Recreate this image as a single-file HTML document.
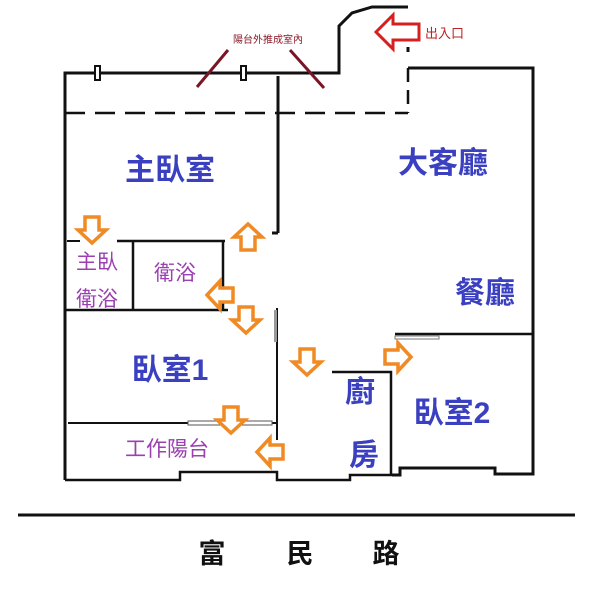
<!DOCTYPE html>
<html><head><meta charset="utf-8"><style>
html,body{margin:0;padding:0;background:#fff;}
svg{display:block;}
text{font-family:"Liberation Sans","Noto Sans CJK TC",sans-serif;}
</style></head><body>
<svg width="600" height="589" viewBox="0 0 600 589" xmlns="http://www.w3.org/2000/svg">
<defs>
<polygon id="ad" points="-7,-13 7,-13 7,0 14,0 0,13 -14,0 -7,0" fill="#fff" stroke="#f08a24" stroke-width="3.5" stroke-linejoin="miter"/>
</defs>
<g stroke="#111" stroke-width="3" fill="none">
<polyline points="65,480 65,73 339,73 339,26 352,13 372,7 408,7"/>
<polyline points="408,68 533,68 533,474 495,474 495,468 400,468 400,475 392,475"/>
<line x1="408" y1="47" x2="408" y2="52"/>
<line x1="65" y1="113" x2="408" y2="113" stroke-dasharray="20,10" stroke-width="2.5"/>
<line x1="408" y1="68" x2="408" y2="113" stroke-dasharray="14,8" stroke-width="2.5"/>
<line x1="278" y1="76" x2="278" y2="233"/>
<polyline points="272,233 278,233"/>
<line x1="67" y1="241" x2="80" y2="241" stroke-width="2"/>
<line x1="117" y1="241" x2="225" y2="241" stroke-width="2.5"/>
<line x1="133" y1="241" x2="133" y2="309" stroke-width="2.5"/>
<line x1="223" y1="241" x2="223" y2="309" stroke-width="2.5"/>
<line x1="65" y1="310" x2="228" y2="310" stroke-width="2.5"/>
<line x1="277" y1="308" x2="277" y2="440" stroke-width="2"/>
<line x1="68" y1="423" x2="276" y2="423" stroke-width="2"/>
<polyline points="65,480 180,480 180,472 277,472 277,480 350,480 350,475 392,475" stroke-width="2.5"/>
<polyline points="332,372 391,372 391,475" stroke-width="2.5"/>
<line x1="395" y1="334" x2="533" y2="334" stroke-width="2.5"/>
</g>
<rect x="95" y="66" width="5" height="14" fill="#fff" stroke="#111" stroke-width="2"/>
<rect x="241" y="66" width="5" height="14" fill="#fff" stroke="#111" stroke-width="2"/>
<rect x="274" y="310" width="3" height="32" fill="#999"/>
<rect x="395" y="336" width="44" height="3" fill="#fff" stroke="#777" stroke-width="1"/>
<rect x="188" y="421" width="84" height="4" fill="#fff" stroke="#555" stroke-width="1"/>
<g stroke="#7a1526" stroke-width="3">
<line x1="197" y1="87" x2="228" y2="50"/>
<line x1="290" y1="50" x2="324" y2="88"/>
</g>
<text x="268" y="43" font-size="10" fill="#8b1a2a" text-anchor="middle">陽台外推成室內</text>
<polygon points="376,32 393,15 393,24 419,24 419,40 393,40 393,49" fill="#fff" stroke="#d42020" stroke-width="3"/>
<text x="425" y="38" font-size="13" fill="#c02020">出入口</text>
<line x1="18" y1="515" x2="575" y2="515" stroke="#111" stroke-width="3"/>
<g font-size="27" font-weight="bold" fill="#111" text-anchor="middle">
<text x="212" y="563">富</text>
<text x="300" y="563">民</text>
<text x="386" y="563">路</text>
</g>
<g fill="#3a40c0" font-size="30" font-weight="bold" text-anchor="middle">
<text x="170" y="180">主臥室</text>
<text x="443" y="173">大客廳</text>
<text x="485" y="303">餐廳</text>
<text x="170" y="380">臥室1</text>
<text x="360" y="402">廚</text>
<text x="364" y="465">房</text>
<text x="452" y="423">臥室2</text>
</g>
<g fill="#9a40b0" font-size="21" text-anchor="middle">
<text x="97" y="269">主臥</text>
<text x="97" y="306">衛浴</text>
<text x="175" y="280">衛浴</text>
<text x="167" y="456">工作陽台</text>
</g>
<use href="#ad" transform="translate(92,230)"/>
<use href="#ad" transform="translate(248,237) rotate(180)"/>
<use href="#ad" transform="translate(220,295) rotate(90)"/>
<use href="#ad" transform="translate(246,320)"/>
<use href="#ad" transform="translate(307,362)"/>
<use href="#ad" transform="translate(398,357) rotate(-90)"/>
<use href="#ad" transform="translate(231,420)"/>
<use href="#ad" transform="translate(270,452) rotate(90)"/>
</svg>
</body></html>
